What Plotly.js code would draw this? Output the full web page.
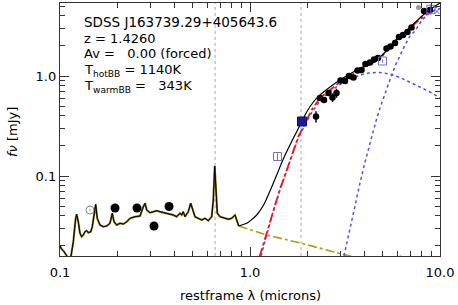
<!DOCTYPE html>
<html>
<head>
<meta charset="utf-8">
<script src="https://cdn.plot.ly/plotly-3.0.1.min.js"></script>
<style>html,body{margin:0;padding:0;background:#fff;}#chart{width:458px;height:305px;}</style>
</head>
<body>
<div id="chart"></div>
<script>
// ---------- DATA ----------
// Template / observed-frame spectrum part (restframe microns, mJy)
const specLam = [0.1000,0.1021,0.1041,0.1062,0.1106,0.1143,0.1175,0.1209,0.1224,0.1248,0.1274,0.1300,0.1326,0.1354,0.1382,0.1409,0.1451,0.1479,0.1515,0.1541,0.1571,0.1623,0.1690,0.1761,0.1833,0.1885,0.1924,0.1988,0.2069,0.2154,0.2245,0.2336,0.2481,0.2637,0.2745,0.2802,0.2860,0.2976,0.3098,0.3228,0.3360,0.3643,0.3947,0.4113,0.4281,0.4369,0.4455,0.4548,0.4734,0.4874,0.4993,0.5134,0.5344,0.5570,0.5798,0.6033,0.6287,0.6410,0.6520,0.6625,0.6729,0.6952,0.7385,0.7690,0.8012,0.8338,0.8511,0.8721];
const specFlux = [0.01995,0.01849,0.01791,0.01710,0.01514,0.01585,0.02203,0.03776,0.04140,0.03491,0.02673,0.02472,0.02570,0.02773,0.02838,0.02710,0.02773,0.03112,0.04236,0.05212,0.03776,0.03236,0.03112,0.03162,0.03365,0.04236,0.03491,0.03236,0.03365,0.03311,0.03491,0.03776,0.03917,0.03981,0.04932,0.05333,0.04571,0.04295,0.04395,0.04498,0.04395,0.04236,0.04074,0.03917,0.04236,0.04074,0.04395,0.03917,0.04395,0.05333,0.04571,0.03917,0.03776,0.03631,0.03776,0.03573,0.03917,0.05754,0.1259,0.06714,0.04236,0.03917,0.03776,0.03689,0.03776,0.04074,0.03631,0.03162];
// Total model beyond the spectrum
const modelLam = [0.8721,0.9043,0.9607,1.000,1.0846,1.175,1.274,1.382,1.497,1.623,1.761,1.871,1.988,2.154,2.336,2.637,2.976,3.498,4.113,4.833,5.243,5.917,6.678,7.541,8.511,9.607,10.0];
const modelFlux = [0.03162,0.03236,0.03365,0.03548,0.04074,0.05070,0.07079,0.1023,0.1479,0.2042,0.2773,0.3491,0.4365,0.5495,0.6457,0.7762,0.9120,1.096,1.288,1.549,1.799,2.344,2.851,3.548,4.365,5.129,5.370];
// Sum of dust components (red dash-dot)
const dustLam = [1.122,1.224,1.326,1.438,1.561,1.674,1.796,1.948,2.112,2.336,2.637,2.976,3.498,4.113,4.833,5.917,7.541,10.0];
const dustFlux = [0.01549,0.02692,0.04571,0.07413,0.1148,0.1698,0.2472,0.3365,0.4571,0.6026,0.7328,0.8710,1.047,1.245,1.496,2.291,3.467,5.248];
// Hot blackbody (1140K)
const hotLam = [1.143,1.224,1.326,1.438,1.561,1.674,1.796,1.948,2.112,2.336,2.637,2.976,3.360,3.793,4.281,4.833,5.456,6.159,6.952,7.848,8.858,10.0];
const hotFlux = [0.01585,0.02630,0.04467,0.07244,0.1122,0.1660,0.2399,0.3236,0.4315,0.5623,0.6998,0.8222,0.9333,1.023,1.079,1.084,1.047,0.9661,0.8710,0.7762,0.6918,0.6026];
// Warm blackbody (343K)
const warmLam = [3.124,3.280,3.442,3.613,3.793,3.981,4.179,4.387,4.604,4.833,5.073,5.325,5.590,5.868,6.159,6.543,6.952,7.386,7.848,8.339,8.858,9.413,10.0];
const warmFlux = [0.01585,0.02455,0.03802,0.05754,0.08511,0.1259,0.1820,0.2570,0.3548,0.4786,0.6310,0.8128,1.047,1.318,1.622,2.042,2.512,2.818,3.388,3.890,4.266,4.571,4.732];
// Accretion-disk power law (olive dash-dot)
const plLam = [0.8721,1.226,1.871,3.319,4.833,6.24];
const plFlux = [0.0316,0.0257,0.0212,0.0159,0.0135,0.0158];
// Optical photometry (black filled circles)
const optLam = [0.1948,0.2542,0.3124,0.3749];
const optFlux = [0.04786,0.04786,0.03162,0.04955];
// Gray open circle
const uvLam = [0.1438];
const uvFlux = [0.04571];
// IR photometry / spectrum points (black)
const irLam = [2.226,2.336,2.452,2.590,2.718,2.853,2.995,3.162,3.319,3.505,3.680,3.862,4.054,4.281,4.494,4.717,5.229,5.489,5.799,6.084,6.386,6.743,7.079,8.238,8.858];
const irFlux = [0.3936,0.6026,0.5754,0.6761,0.6095,0.6761,0.9016,0.8913,1.000,0.966,1.135,1.148,1.318,1.365,1.462,1.514,1.884,1.972,2.138,2.455,2.570,2.754,3.055,4.467,4.571];
const irErr  = [0.05,0.03,0.03,0.03,0.06,0.07,0.05,0.03,0.03,0.03,0.03,0.03,0.03,0.03,0.03,0.03,0.04,0.04,0.04,0.04,0.04,0.05,0.05,0.1,0.1];
// Filled blue square
const nirLam = [1.878];
const nirFlux = [0.3508];
// Open squares (other photometry)
const sqLam = [1.395,4.983,8.95];
const sqFlux = [0.1567,1.413,4.65];
const sqErr = [0.012,0.05,0.6];
// Small markers at top right
const grayDotLam = [7.706];
const grayDotFlux = [4.842];
const xLam = [9.643];
const xFlux = [4.416];
// Reference vertical lines (restframe microns)
const vlines = [0.655, 1.855];
// Axis ticks
const xTickVals = [0.1, 1, 10];
const xTickText = ['0.1', '1.0', '10.0'];
const xMinor = [0.2,0.3,0.4,0.5,0.6,0.7,0.8,0.9,2,3,4,5,6,7,8,9];
const yTickVals = [0.1, 1];
const yTickText = ['0.1', '1.0'];
const yMinor = [0.02,0.03,0.04,0.05,0.06,0.07,0.08,0.09,0.2,0.3,0.4,0.5,0.6,0.7,0.8,0.9,2,3,4,5];
// Labels
const infoLines = [
  'SDSS J163739.29+405643.6',
  'z = 1.4260',
  'Av =\u00a0\u00a0 0.00 (forced)',
  'T<sub>hotBB</sub> = 1140K',
  'T<sub>warmBB</sub> =\u00a0\u00a0 343K'
];

// ---------- LAYOUT HELPERS ----------
const W = 458, H = 305;
const M = {l: 60, r: 18, t: 3, b: 49};
const PW = W - M.l - M.r, PH = H - M.t - M.b;
const pxX = px => (px - M.l) / PW;
const pxY = py => (H - M.b - py) / PH;
const FONT = 'DejaVu Sans, Arial, sans-serif';

const traces = [
  {x: plLam, y: plFlux, mode: 'lines', line: {color: '#b09a10', width: 1.6, dash: 'dashdot'}, hoverinfo: 'none'},
  {x: hotLam, y: hotFlux, mode: 'lines', line: {color: '#5050f0', width: 1.5, dash: 'dot'}, hoverinfo: 'none'},
  {x: warmLam, y: warmFlux, mode: 'lines', line: {color: '#5050f0', width: 1.5, dash: 'dot'}, hoverinfo: 'none'},
  {x: dustLam, y: dustFlux, mode: 'lines', line: {color: '#ff1010', width: 1.8, dash: 'dashdot'}, hoverinfo: 'none'},
  {x: specLam, y: specFlux, mode: 'lines', line: {color: '#7d6c12', width: 2}, hoverinfo: 'none'},
  {x: specLam, y: specFlux, mode: 'lines', line: {color: '#000000', width: 1}, hoverinfo: 'none'},
  {x: modelLam, y: modelFlux, mode: 'lines', line: {color: '#000000', width: 1.2, shape: 'spline'}, hoverinfo: 'none'},
  {x: optLam, y: optFlux, mode: 'markers', marker: {color: '#000', size: 9, symbol: 'circle'}},
  {x: uvLam, y: uvFlux, mode: 'markers', marker: {color: '#888', size: 8, symbol: 'circle-open-dot', line: {width: 1, color: '#888'}}},
  {x: irLam, y: irFlux, mode: 'markers', marker: {color: '#000', size: 6.5, symbol: 'circle'},
   error_y: {type: 'data', array: irErr, visible: true, color: '#000', thickness: 1.5, width: 0}},
  {x: nirLam, y: nirFlux, mode: 'markers', marker: {color: '#1a1a9a', size: 9, symbol: 'square', line: {color: '#101060', width: 1}}},
  {x: sqLam, y: sqFlux, mode: 'markers', marker: {color: '#7070d0', size: 8, symbol: 'square-open', line: {width: 1, color: '#7070d0'}},
   error_y: {type: 'data', array: sqErr, visible: true, color: '#7070d0', thickness: 1, width: 0}},
  {x: grayDotLam, y: grayDotFlux, mode: 'markers', marker: {color: '#999', size: 5, symbol: 'circle'}},
  {x: xLam, y: xFlux, mode: 'markers', marker: {color: '#5a5ad0', size: 5, symbol: 'x-thin-open', line: {width: 1, color: '#5a5ad0'}}}
];

const shapes = vlines.map(v => ({
  type: 'line', xref: 'x', yref: 'paper', x0: v, x1: v, y0: 0, y1: 1,
  line: {color: '#aaaaaa', width: 1, dash: 'dot'}, layer: 'below'
}));

const infoY = [22, 39, 54, 70, 86];
const annotations = infoLines.map((t, i) => ({
  text: t, xref: 'paper', yref: 'paper', x: pxX(82), y: pxY(infoY[i]),
  xanchor: 'left', yanchor: 'middle', showarrow: false,
  font: {family: FONT, size: i === 0 ? 13.5 : 13, color: '#000'}
}));
annotations.push({
  text: '<i>fν</i> [mJy]', xref: 'paper', yref: 'paper', x: pxX(13), y: pxY(132),
  xanchor: 'center', yanchor: 'middle', textangle: -90, showarrow: false,
  font: {family: FONT, size: 13, color: '#000'}
});
annotations.push({
  text: 'restframe λ (microns)', xref: 'paper', yref: 'paper', x: pxX(250), y: pxY(295),
  xanchor: 'center', yanchor: 'middle', showarrow: false,
  font: {family: FONT, size: 13, color: '#000'}
});

const axisCommon = {
  type: 'log', showgrid: false, zeroline: false, showline: true, linecolor: '#333', linewidth: 1.2,
  mirror: 'allticks', ticks: 'inside', ticklen: 9, tickwidth: 1, tickcolor: '#333',
  tickfont: {family: FONT, size: 13, color: '#000'}, tickmode: 'array'
};

const layout = {
  width: W, height: H, margin: M, paper_bgcolor: '#fff', plot_bgcolor: '#fff',
  showlegend: false,
  xaxis: Object.assign({}, axisCommon, {
    range: [-1, 1], tickvals: xTickVals, ticktext: xTickText, ticklabelstandoff: 4,
    minor: {tickmode: 'array', tickvals: xMinor, ticks: 'inside', ticklen: 5, tickwidth: 1, tickcolor: '#333'}
  }),
  yaxis: Object.assign({}, axisCommon, {
    range: [-1.8, 0.73], tickvals: yTickVals, ticktext: yTickText,
    minor: {tickmode: 'array', tickvals: yMinor, ticks: 'inside', ticklen: 5, tickwidth: 1, tickcolor: '#333'}
  }),
  shapes: shapes,
  annotations: annotations
};

Plotly.newPlot('chart', traces, layout, {staticPlot: true, displayModeBar: false});
</script>
</body>
</html>
